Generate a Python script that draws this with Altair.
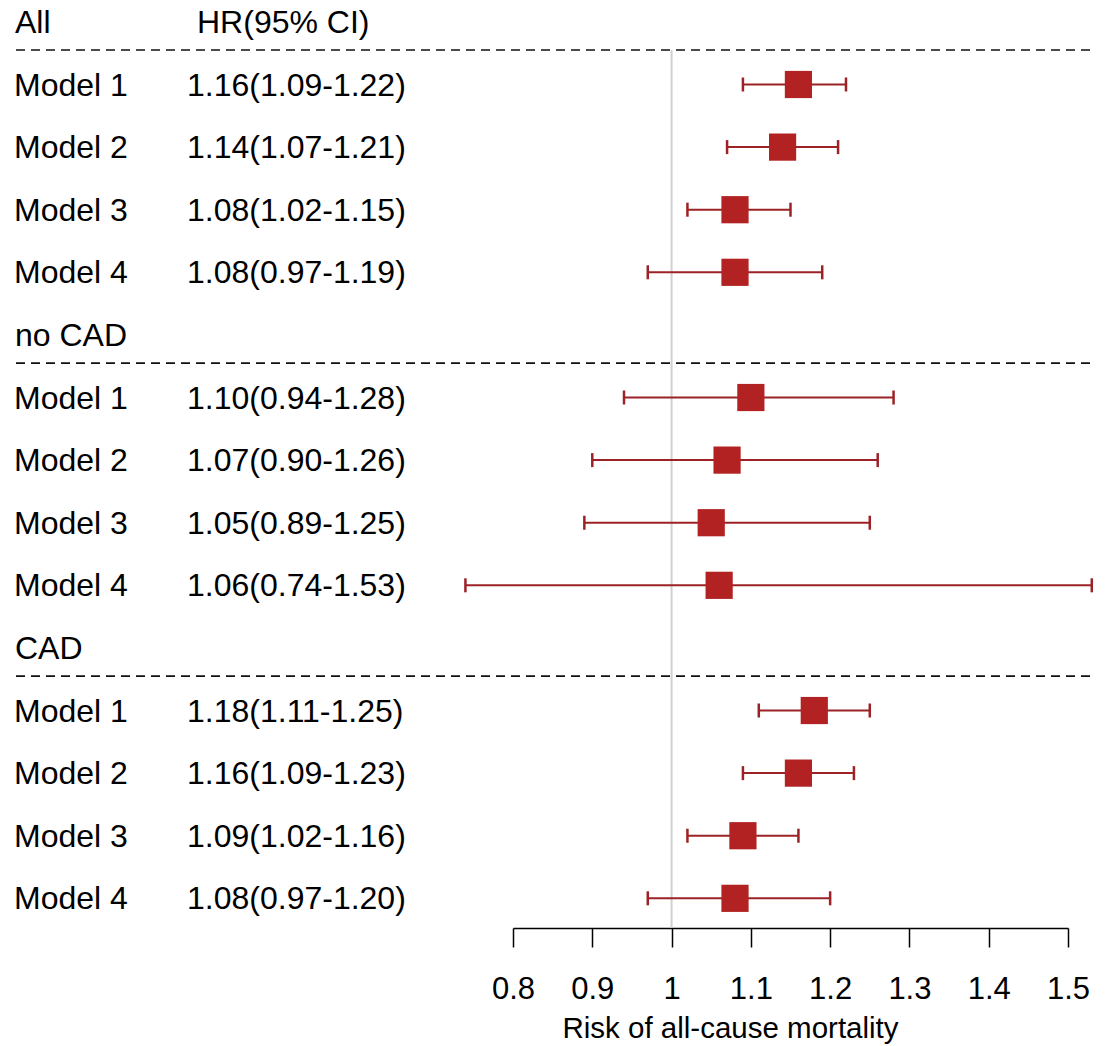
import altair as alt
import pandas as pd

# ---- data ----
groups = ["All", "no CAD", "CAD"]
models = ["Model 1", "Model 2", "Model 3", "Model 4"]
hr = [1.16, 1.14, 1.08, 1.08, 1.10, 1.07, 1.05, 1.06, 1.18, 1.16, 1.09, 1.08]
lo = [1.09, 1.07, 1.02, 0.97, 0.94, 0.90, 0.89, 0.74, 1.11, 1.09, 1.02, 0.97]
hi = [1.22, 1.21, 1.15, 1.19, 1.28, 1.26, 1.25, 1.53, 1.25, 1.23, 1.16, 1.20]
hr_text = [
    "1.16(1.09-1.22)", "1.14(1.07-1.21)", "1.08(1.02-1.15)", "1.08(0.97-1.19)",
    "1.10(0.94-1.28)", "1.07(0.90-1.26)", "1.05(0.89-1.25)", "1.06(0.74-1.53)",
    "1.18(1.11-1.25)", "1.16(1.09-1.23)", "1.09(1.02-1.16)", "1.08(0.97-1.20)",
]
x_ticks = [0.8, 0.9, 1.0, 1.1, 1.2, 1.3, 1.4, 1.5]
axis_title = "Risk of all-cause mortality"
header_hr = "HR(95% CI)"

# ---- tables ----
head_rows, model_rows = [], []
r = 0
for g in groups:
    head_rows.append({"label": g, "row": r, "sep": r + 0.45})
    r += 1
    for m in models:
        model_rows.append({"label": m, "row": r})
        r += 1
heads = pd.DataFrame(head_rows)
rows = pd.DataFrame(model_rows)
rows["hr"] = hr
rows["lo"] = lo
rows["hi"] = hi
rows["txt"] = hr_text

caps = pd.concat([
    pd.DataFrame({"x": rows["lo"], "y1": rows["row"] - 0.112, "y2": rows["row"] + 0.112}),
    pd.DataFrame({"x": rows["hi"], "y1": rows["row"] - 0.112, "y2": rows["row"] + 0.112}),
])

Y_MIN, Y_MAX = -0.3498, 14.474
ref = pd.DataFrame({"x": [1.0], "y": [0.45], "y2": [Y_MAX]})
hdr = pd.DataFrame({"txt": [header_hr], "row": [0]})

FONT = "Liberation Sans"
FS = 32
xscale = alt.Scale(domain=[0.8, 1.5], nice=False, zero=False)
yscale = alt.Scale(domain=[Y_MIN, Y_MAX], reverse=True, nice=False, zero=False)
xaxis = alt.Axis(
    values=x_ticks, format="~g", grid=False, tickSize=19, tickColor="black",
    tickWidth=1.5, domainColor="black", domainWidth=1.5,
    labelFont=FONT, labelFontSize=31, labelColor="black", labelBaseline="alphabetic",
    labelPadding=51, labelFlush=False, labelOverlap=False,
    title=axis_title, titleFont=FONT, titleFontSize=29.5, titleFontWeight="normal",
    titleColor="black", titleX=217, titleY=109, titleAlign="center",
    titleBaseline="alphabetic",
)

def X(field):
    return alt.X(field, type="quantitative", scale=xscale, axis=xaxis)

def Y(field):
    return alt.Y(field, type="quantitative", scale=yscale, axis=None)

refline = alt.Chart(ref).mark_rule(color="#d0d0d0", strokeWidth=2).encode(
    x=X("x"), y=Y("y"), y2="y2")

seps = alt.Chart(heads).mark_rule(color="#111111", strokeWidth=1.6, strokeDash=[9, 6]).encode(
    x=alt.value(-497), x2=alt.value(579), y=Y("sep"))

ci = alt.Chart(rows).mark_rule(color="#9C2227", strokeWidth=2).encode(
    x=X("lo"), x2="hi", y=Y("row"))

capm = alt.Chart(caps).mark_rule(color="#9C2227", strokeWidth=2.5).encode(
    x=X("x"), y=Y("y1"), y2="y2")

sq = alt.Chart(rows).mark_square(color="#B22222", size=740, opacity=1).encode(
    x=X("hr"), y=Y("row"))

def text_layer(df, field, xpix):
    return alt.Chart(df).mark_text(
        align="left", baseline="alphabetic", dy=11, font=FONT, fontSize=FS, color="black"
    ).encode(x=alt.value(xpix), y=Y("row"), text=field)

lab_models = text_layer(rows, "label", -499)
lab_heads = text_layer(heads, "label", -498)
lab_hr = text_layer(rows, "txt", -326)
lab_hdr = text_layer(hdr, "txt", -316)

chart = alt.layer(
    refline, seps, ci, capm, sq, lab_models, lab_heads, lab_hr, lab_hdr
).properties(
    width=555, height=928,
    autosize=alt.AutoSizeParams(type="none"),
    padding={"left": 513, "top": 0, "right": 38, "bottom": 118},
    background="white",
).configure_view(stroke=None)

chart.save("out.html", embed_options={"renderer": "svg", "actions": False})
